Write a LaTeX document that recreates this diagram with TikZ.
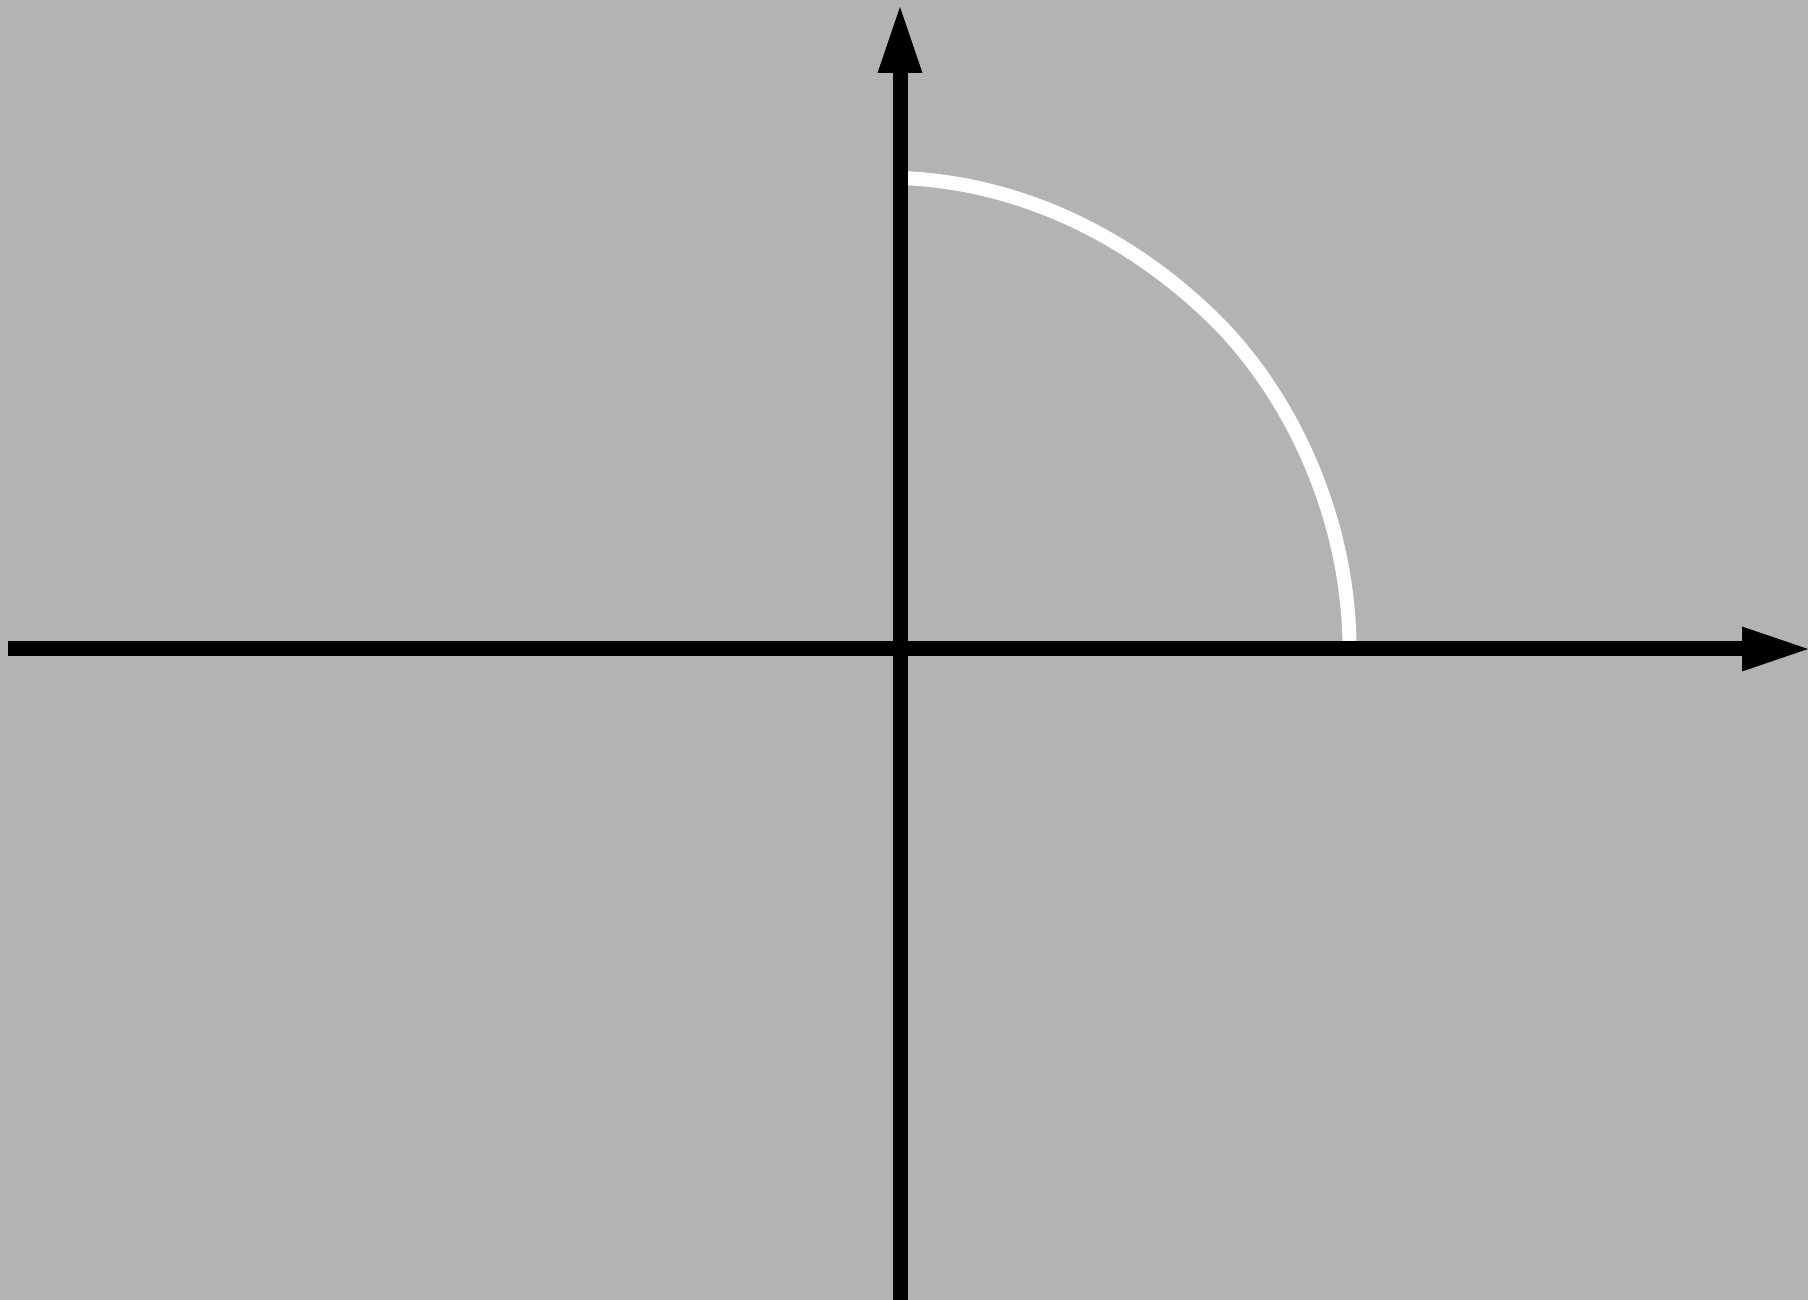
\documentclass[tikz,border=0pt]{standalone}
\usetikzlibrary{arrows.meta}
\definecolor{paper}{HTML}{B3B3B3}
\definecolor{ink}{HTML}{000000}
\definecolor{chalk}{HTML}{FFFFFF}

\begin{document}
\begin{tikzpicture}[x=0.02cm,y=0.02cm,
    axis/.style={ink,line width=0.3cm,
      -{Triangle[length=1.32cm,width=0.9cm,line width=0pt]}},
    quarter/.style={chalk,line width=0.28cm}]
  % backdrop, fixes the page size
  \fill[paper] (-900,649) rectangle (908,-651);
  \useasboundingbox (-900,649) rectangle (908,-651);
  \coordinate (O) at (0,0);
  \coordinate (top) at (0,471);
  \coordinate (mid) at (322,322);
  \coordinate (right) at (449.5,0);
  % the white quarter curve, under the axes
  \draw[quarter] (top) .. controls (122,467) and (236,410) .. (mid)
    .. controls (400,240) and (449.5,119) .. (right);
  % axes
  \draw[axis] (-892,0)--(908,0);
  \draw[axis] (0,-651)--(0,642);
\end{tikzpicture}
\end{document}
